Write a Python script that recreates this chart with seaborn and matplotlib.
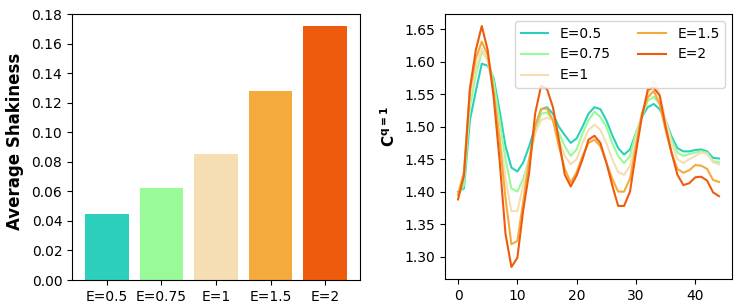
import numpy as np
import pandas as pd
import matplotlib
matplotlib.use("Agg")
import matplotlib.pyplot as plt
import seaborn as sns

labels = ["E=0.5", "E=0.75", "E=1", "E=1.5", "E=2"]
colors = ["#2ccfba", "#98fb98", "#f5deb3", "#f4aa3c", "#ee5b0c"]
shakiness = [0.045, 0.062, 0.085, 0.128, 0.172]

c_e05 = [1.400, 1.405, 1.510, 1.555, 1.597, 1.594, 1.575, 1.525, 1.470, 1.437,
         1.431, 1.445, 1.470, 1.500, 1.527, 1.530, 1.520, 1.500, 1.487, 1.475,
         1.482, 1.500, 1.520, 1.530, 1.527, 1.510, 1.487, 1.467, 1.457, 1.465,
         1.490, 1.515, 1.530, 1.535, 1.527, 1.510, 1.485, 1.467, 1.462, 1.462,
         1.464, 1.465, 1.462, 1.452, 1.451]
c_e075 = [1.395, 1.410, 1.530, 1.580, 1.615, 1.605, 1.570, 1.510, 1.450, 1.405,
          1.400, 1.420, 1.450, 1.490, 1.520, 1.522, 1.510, 1.490, 1.470, 1.455,
          1.465, 1.490, 1.510, 1.523, 1.515, 1.500, 1.475, 1.455, 1.444, 1.455,
          1.490, 1.515, 1.540, 1.546, 1.535, 1.510, 1.480, 1.460, 1.455, 1.458,
          1.460, 1.462, 1.460, 1.447, 1.445]
c_e1 = [1.395, 1.430, 1.545, 1.590, 1.620, 1.600, 1.555, 1.490, 1.420, 1.370,
        1.370, 1.410, 1.450, 1.490, 1.510, 1.514, 1.510, 1.480, 1.455, 1.442,
        1.450, 1.475, 1.495, 1.503, 1.495, 1.475, 1.450, 1.430, 1.426, 1.440,
        1.480, 1.520, 1.550, 1.570, 1.550, 1.510, 1.475, 1.450, 1.444, 1.450,
        1.455, 1.460, 1.458, 1.445, 1.442]
c_e15 = [1.395, 1.430, 1.555, 1.605, 1.631, 1.610, 1.555, 1.480, 1.390, 1.319,
         1.324, 1.385, 1.450, 1.500, 1.527, 1.528, 1.510, 1.470, 1.435, 1.414,
         1.430, 1.455, 1.475, 1.480, 1.470, 1.445, 1.420, 1.400, 1.400, 1.420,
         1.470, 1.520, 1.545, 1.555, 1.535, 1.495, 1.460, 1.435, 1.429, 1.433,
         1.441, 1.440, 1.435, 1.418, 1.415]
c_e2 = [1.388, 1.425, 1.559, 1.618, 1.655, 1.618, 1.546, 1.449, 1.335, 1.284,
        1.298, 1.372, 1.430, 1.520, 1.563, 1.558, 1.530, 1.480, 1.426, 1.408,
        1.425, 1.450, 1.480, 1.486, 1.475, 1.445, 1.410, 1.378, 1.378, 1.400,
        1.460, 1.515, 1.557, 1.560, 1.548, 1.500, 1.460, 1.426, 1.410, 1.413,
        1.422, 1.423, 1.417, 1.399, 1.393]

series = [c_e05, c_e075, c_e1, c_e15, c_e2]
rows = []
for lab, vals in zip(labels, series):
    for i, v in enumerate(vals):
        rows.append({"step": i, "C": v, "E": lab})
df = pd.DataFrame(rows)
bars = pd.DataFrame({"E": labels, "shakiness": shakiness})

fig = plt.figure(figsize=(7.43, 3.08), dpi=100)
ax1 = fig.add_axes([72 / 743, 28 / 308, 288 / 743, 266 / 308])
ax2 = fig.add_axes([445 / 743, 29 / 308, 287 / 743, 265 / 308])

sns.barplot(data=bars, x="E", y="shakiness", hue="E", palette=colors,
            width=0.8, saturation=1, legend=False, ax=ax1)
ax1.set_xlim(-0.64, 4.64)
ax1.set_ylim(0, 0.18)
ax1.set_xlabel("")
ax1.set_ylabel("Average Shakiness", fontsize=12, fontweight="bold")
ax1.yaxis.set_label_coords(-0.168, 0.52)

sns.lineplot(data=df, x="step", y="C", hue="E", palette=colors,
             linewidth=1.5, ax=ax2)
ax2.set_xlabel("")
ax2.set_ylabel(r"$\mathbf{C^{q=1}}$", fontsize=11)
ax2.yaxis.set_label_coords(-0.165, 0.575)
ax2.set_xticks([0, 10, 20, 30, 40])
ax2.legend(ncol=2, loc="upper right", title=None)

fig.savefig("out.png", dpi=100)
